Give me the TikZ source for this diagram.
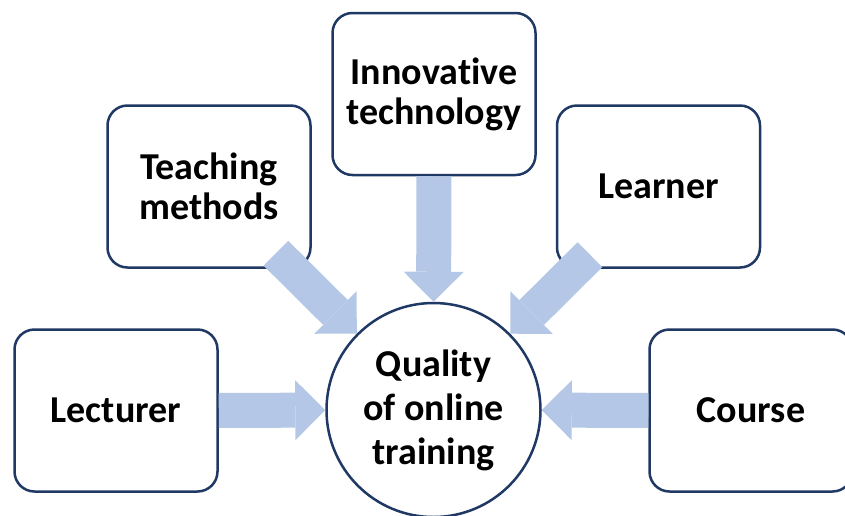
\documentclass[tikz,border=0pt]{standalone}
\usepackage{fontspec}
\setmainfont{Carlito}[Ligatures=NoCommon]
\usepackage{tikz}
\usetikzlibrary{arrows.meta}

\definecolor{boxline}{HTML}{1F3864}
\definecolor{arrowfill}{HTML}{B4C7E7}

\tikzset{
	factor/.style={draw=boxline,fill=white,line width=2.5pt,rounded corners=20pt,minimum width=203pt,minimum height=162pt,align=center,font=\bfseries\fontsize{38}{40}\selectfont},
	target/.style={draw=boxline,fill=white,line width=2.5pt,circle,minimum size=214pt,inner sep=0pt,align=center,font=\bfseries\fontsize{38}{44}\selectfont},
	flow/.style={draw=arrowfill,line width=35pt,-{Triangle[length=30pt,width=60pt,line width=0pt]}},
}

\begin{document}
\begin{tikzpicture}[x=1pt,y=-1pt]
		\useasboundingbox (0,0) rectangle (845,515);
		\node[factor] (lect) at (116,410.5) {Lecturer};
		\node[factor] (teach) at (209,186.5) {Teaching\\methods};
		\node[factor] (innov) at (434,94) {Innovative\\technology};
		\node[factor] (learn) at (658.5,186.5) {Learner};
		\node[factor] (course) at (751,410.5) {Course};
		\node[target] (qual) at (433.5,410) {Quality\\of online\\training};
		% block arrows into the circle
		\draw[flow] (lect) -- (qual);
		\draw[flow,shorten <=-22pt] (teach) -- (qual);
		\draw[flow] (innov) -- (qual);
		\draw[flow,shorten <=-20pt] (learn) -- (qual);
		\draw[flow] (course) -- (qual);
	\end{tikzpicture}
\end{document}
